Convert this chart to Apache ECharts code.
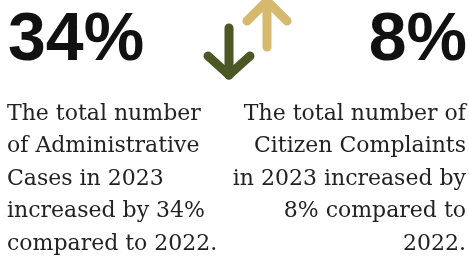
<!DOCTYPE html>
<html>
<head>
<meta charset="UTF-8">
<script src="https://cdn.jsdelivr.net/npm/echarts@6/dist/echarts.min.js"></script>
</head>
<body style="margin:0;background:#fff">
<div id="chart" style="width:469px;height:260px"></div>
<script>
// values
var stats = [34, 8];
var leftLines = ['The total number', 'of Administrative', 'Cases in 2023', 'increased by 34%', 'compared to 2022.'];
var rightLines = ['The total number of', 'Citizen Complaints', 'in 2023 increased by', '8% compared to', '2022.'];
var arrowColors = ['#4b5725', '#d6b96d'];

var elements = [];

// description lines
for (var i = 0; i < leftLines.length; i++) {
    elements.push({
        type: 'text', x: 7, y: 103 + i * 32.5,
        style: { text: leftLines[i], fontSize: 22, fontFamily: 'DejaVu Serif', fill: '#222' }
    });
}
for (var j = 0; j < rightLines.length; j++) {
    elements.push({
        type: 'text', x: 466, y: 103 + j * 32.5,
        style: { text: rightLines[j], fontSize: 22, fontFamily: 'DejaVu Serif', fill: '#222', align: 'right' }
    });
}

// big percentages
elements.push({
    type: 'text', x: 8, y: 7,
    style: { text: stats[0] + '%', fontSize: 68, fontWeight: 'bold', fontFamily: 'Liberation Sans', fill: '#111' }
});
elements.push({
    type: 'text', x: 467, y: 7,
    style: { text: stats[1] + '%', fontSize: 68, fontWeight: 'bold', fontFamily: 'Liberation Sans', fill: '#111', align: 'right' }
});

// arrows
var arrowStyle = function (c) {
    return { stroke: c, lineWidth: 9, lineCap: 'round', lineJoin: 'round', fill: null };
};
elements.push({ type: 'polyline', shape: { points: [[229, 28], [229, 75]] }, style: arrowStyle(arrowColors[0]) });
elements.push({ type: 'polyline', shape: { points: [[208, 56], [229, 75], [250, 56]] }, style: arrowStyle(arrowColors[0]) });
elements.push({ type: 'polyline', shape: { points: [[267, 47], [267, 1]] }, style: arrowStyle(arrowColors[1]) });
elements.push({ type: 'polyline', shape: { points: [[247, 21], [267, 1], [287, 21]] }, style: arrowStyle(arrowColors[1]) });

var myChart = echarts.init(document.getElementById('chart'));
myChart.setOption({
    backgroundColor: '#fff',
    animation: false,
    graphic: { elements: elements }
});
</script>
</body>
</html>
